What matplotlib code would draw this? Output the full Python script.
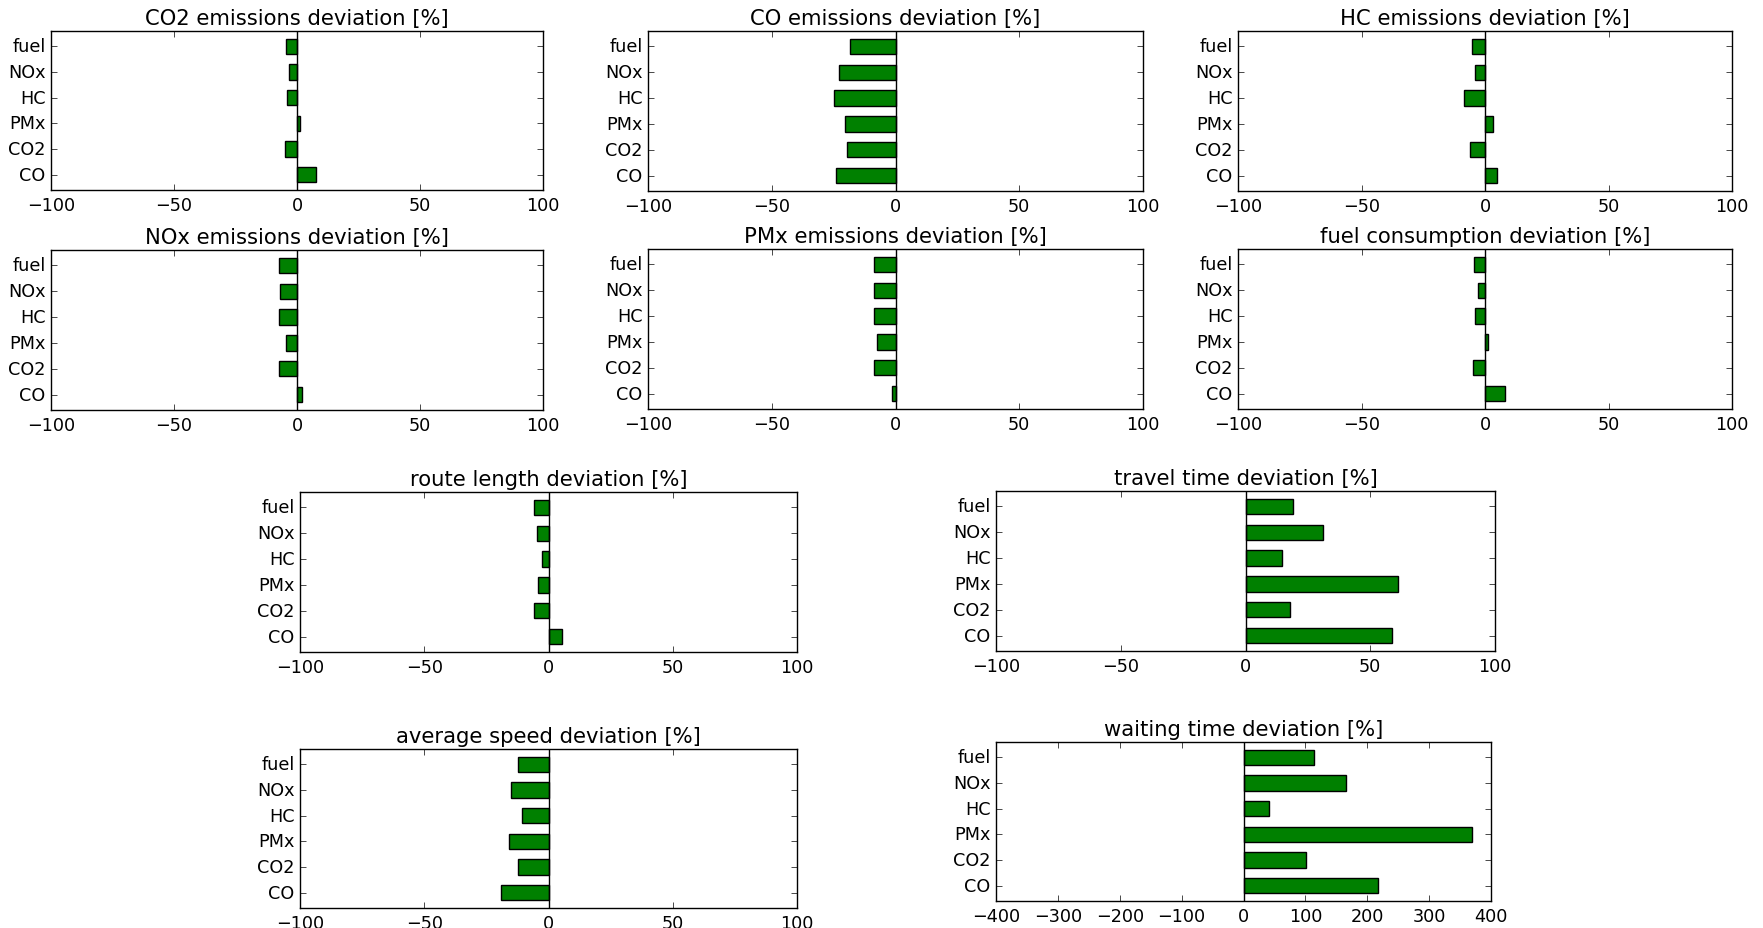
import numpy as np
import matplotlib
matplotlib.use('Agg')
import matplotlib.pyplot as plt

plt.style.use('classic')

labels = ['CO', 'CO2', 'PMx', 'HC', 'NOx', 'fuel']

co2_dev = [7.9, -5.0, 1.1, -4.0, -3.3, -4.5]
co_dev = [-24.1, -19.6, -20.6, -25.0, -22.7, -18.4]
hc_dev = [5.0, -6.2, 3.3, -8.3, -3.9, -5.3]
nox_dev = [1.9, -7.3, -4.4, -7.3, -6.8, -7.3]
pmx_dev = [-1.5, -8.7, -7.6, -8.7, -8.7, -8.7]
fuel_dev = [8.1, -4.8, 1.2, -3.9, -2.7, -4.4]
route_dev = [5.4, -5.7, -4.3, -2.8, -4.8, -5.7]
travel_dev = [58.6, 17.8, 61.1, 14.7, 31.0, 19.0]
speed_dev = [-19.1, -12.3, -16.0, -10.6, -15.1, -12.3]
waiting_dev = [217, 101.5, 370, 41.5, 166, 114.6]

titles = ['CO2 emissions deviation [%]', 'CO emissions deviation [%]',
          'HC emissions deviation [%]', 'NOx emissions deviation [%]',
          'PMx emissions deviation [%]', 'fuel consumption deviation [%]',
          'route length deviation [%]', 'travel time deviation [%]',
          'average speed deviation [%]', 'waiting time deviation [%]']
series = [co2_dev, co_dev, hc_dev, nox_dev, pmx_dev, fuel_dev,
          route_dev, travel_dev, speed_dev, waiting_dev]
limits = [100] * 9 + [400]

W, H = 1763.0, 929.0
# axes boxes in pixels: left, top, right, bottom
boxes = [(51, 32, 543, 191), (648, 32, 1143, 192), (1238, 32, 1732, 192),
         (51, 251, 543, 411), (648, 250, 1143, 410), (1238, 250, 1732, 410),
         (300, 493, 797, 653), (996, 492, 1495, 652),
         (300, 750, 797, 909), (996, 743, 1491, 902)]

fig = plt.figure(figsize=(W / 100, H / 100), dpi=100, facecolor='white')

for title, vals, lim, (l, t, r, b) in zip(titles, series, limits, boxes):
    ax = fig.add_axes([l / W, 1 - b / H, (r - l) / W, (b - t) / H])
    y = np.arange(len(labels))
    ax.barh(y, vals, height=0.6, align='center', color='g', edgecolor='k', linewidth=1)
    ax.axvline(0, color='k', linewidth=1)
    ax.set_yticks(y)
    ax.set_yticklabels(labels)
    ax.set_ylim(-0.6, 5.6)
    ax.set_xlim(-lim, lim)
    ax.set_title(title, fontsize=15.2)
    ax.tick_params(labelsize=12.7)

fig.savefig('out.png', dpi=100, facecolor='white')
